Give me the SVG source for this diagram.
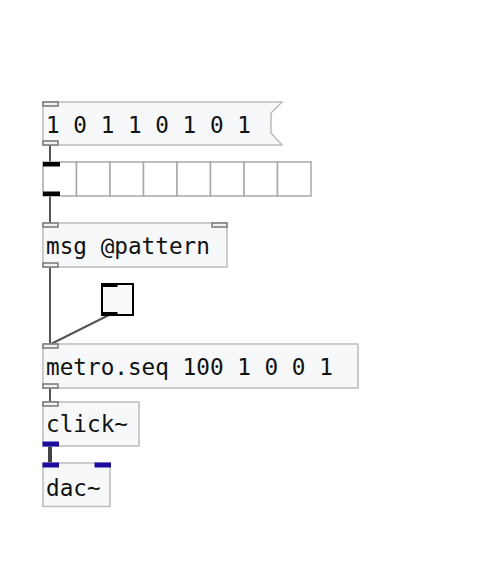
<svg xmlns="http://www.w3.org/2000/svg" width="498" height="567" viewBox="0 0 498 567">
  <style>
    .box { fill: #f6f8fa; stroke: #bcbcbc; stroke-width: 1.5; }
    .txt { font-family: "DejaVu Sans Mono", "Liberation Mono", monospace; font-size: 22.7px; fill: #111; }
    .io { fill: #f2f2f2; stroke: #777; stroke-width: 1.5; }
    .iob { fill: #000; }
    .sig { fill: #1c0ca0; }
    .cord { stroke: #555; stroke-width: 2; fill: none; }
    .sigcord { stroke: #444; stroke-width: 4; fill: none; }
    .cell { fill: #fff; stroke: #a8a8a8; stroke-width: 1.5; }
  </style>

  <!-- connections -->
  <g id="connectors">
    <line class="cord" x1="50" y1="145" x2="50" y2="162"/>
    <line class="cord" x1="50" y1="196" x2="50" y2="223"/>
    <line class="cord" x1="50" y1="267" x2="50" y2="344"/>
    <line class="cord" x1="109" y1="315" x2="49" y2="345"/>
    <line class="cord" x1="50" y1="388" x2="50" y2="402"/>
    <line class="sigcord" x1="50" y1="446" x2="50" y2="463"/>
  </g>

  <!-- message box -->
  <g id="msg-pattern-list">
    <polygon class="box" points="43,102 282,102 271,113 271,133 282,145 43,145"/>
    <rect class="io" x="43" y="102" width="15" height="4"/>
    <rect class="io" x="43" y="141" width="15" height="4"/>
    <text class="txt" x="46" y="133">1 0 1 1 0 1 0 1</text>
  </g>

  <!-- toggle array -->
  <g id="toggle-array">
    <rect class="cell" x="43" y="162" width="33.5" height="34"/>
    <rect class="cell" x="76.5" y="162" width="33.5" height="34"/>
    <rect class="cell" x="110" y="162" width="33.5" height="34"/>
    <rect class="cell" x="143.5" y="162" width="33.5" height="34"/>
    <rect class="cell" x="177" y="162" width="33.5" height="34"/>
    <rect class="cell" x="210.5" y="162" width="33.5" height="34"/>
    <rect class="cell" x="244" y="162" width="33.5" height="34"/>
    <rect class="cell" x="277.5" y="162" width="33.5" height="34"/>
    <rect class="iob" x="43" y="162" width="17" height="4.5"/>
    <rect class="iob" x="43" y="191.5" width="17" height="4.5"/>
  </g>

  <!-- msg @pattern object -->
  <g id="msg-object">
    <rect class="box" x="43" y="223" width="184" height="44"/>
    <rect class="io" x="43" y="223" width="15" height="4"/>
    <rect class="io" x="212" y="223" width="15" height="4"/>
    <rect class="io" x="43" y="263" width="15" height="4"/>
    <text class="txt" x="46" y="254">msg @pattern</text>
  </g>

  <!-- toggle -->
  <g id="toggle">
    <rect x="102" y="284" width="31" height="31" fill="#fafafa" stroke="#000" stroke-width="2"/>
    <rect class="iob" x="101" y="283" width="16.5" height="4"/>
    <rect class="iob" x="101" y="312" width="16.5" height="4"/>
  </g>

  <!-- metro.seq object -->
  <g id="metro-seq">
    <rect class="box" x="43" y="344" width="315" height="44"/>
    <rect class="io" x="43" y="344" width="15" height="4"/>
    <rect class="io" x="43" y="384" width="15" height="4"/>
    <text class="txt" x="46" y="375">metro.seq 100 1 0 0 1</text>
  </g>

  <!-- click~ object -->
  <g id="click">
    <rect class="box" x="43" y="402" width="96" height="44"/>
    <rect class="io" x="43" y="402" width="15" height="4"/>
    <rect class="sig" x="42.5" y="441.5" width="16.5" height="5"/>
    <text class="txt" x="46" y="432">click~</text>
  </g>

  <!-- dac~ object -->
  <g id="dac">
    <rect class="box" x="43" y="463" width="67" height="43.5"/>
    <rect class="sig" x="42.5" y="462.5" width="16.5" height="5"/>
    <rect class="sig" x="94.5" y="462.5" width="16.5" height="5"/>
    <text class="txt" x="46" y="496">dac~</text>
  </g>
</svg>
